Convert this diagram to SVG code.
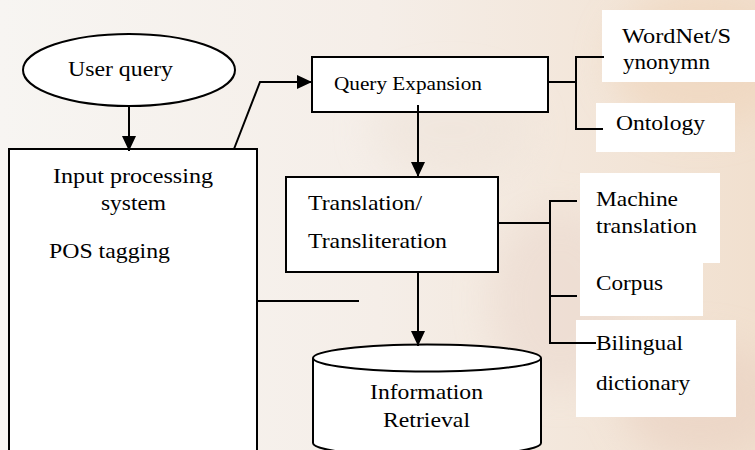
<svg xmlns="http://www.w3.org/2000/svg" width="755" height="450" viewBox="0 0 755 450">
  <defs>
    <linearGradient id="bg" x1="0" y1="0" x2="1" y2="0">
      <stop offset="0" stop-color="#f7f5f2"/>
      <stop offset="0.5" stop-color="#f5eee8"/>
      <stop offset="1" stop-color="#f1e0cf"/>
    </linearGradient>
    <filter id="blur" x="-50%" y="-50%" width="200%" height="200%">
      <feGaussianBlur stdDeviation="18"/>
    </filter>
    <marker id="arrow" markerUnits="userSpaceOnUse" markerWidth="16" markerHeight="16" refX="15" refY="7" orient="auto">
      <path d="M0,0 L15,7 L0,14 Z" fill="#000"/>
    </marker>
    <style>
      .shape { fill: #ffffff; stroke: #000000; stroke-width: 2; }
      .line { fill: none; stroke: #000000; stroke-width: 2; }
      .label { fill: #ffffff; stroke: none; }
      .t { font-family: Liberation Serif, DejaVu Serif, serif; font-size: 22px; fill: #000000; }
      .s { font-family: Liberation Serif, DejaVu Serif, serif; font-size: 19px; fill: #000000; }
    </style>
  </defs>

  <rect id="background" x="0" y="0" width="755" height="450" fill="url(#bg)"/>
  <g id="watermark" filter="url(#blur)" opacity="0.55">
    <ellipse cx="700" cy="60" rx="90" ry="70" fill="#efd3b8"/>
    <ellipse cx="700" cy="400" rx="80" ry="60" fill="#e8cfc0"/>
    <ellipse cx="560" cy="300" rx="70" ry="90" fill="#ead8ce"/>
    <ellipse cx="450" cy="130" rx="80" ry="50" fill="#eee3d9"/>
  </g>

  <g id="user-query">
    <ellipse class="shape" cx="129" cy="70" rx="106" ry="36"/>
    <text class="t" x="68" y="76" textLength="105" lengthAdjust="spacingAndGlyphs">User query</text>
  </g>

  <g id="input-processing">
    <rect class="shape" x="9" y="149" width="248" height="320"/>
    <text class="t" x="53" y="183" textLength="160" lengthAdjust="spacingAndGlyphs">Input processing</text>
    <text class="t" x="101" y="210" textLength="65" lengthAdjust="spacingAndGlyphs">system</text>
    <text class="t" x="49" y="258" textLength="121" lengthAdjust="spacingAndGlyphs">POS tagging</text>
  </g>

  <g id="query-expansion">
    <rect class="shape" x="312" y="57" width="236" height="55"/>
    <text class="s" x="334" y="90" textLength="148" lengthAdjust="spacingAndGlyphs">Query Expansion</text>
  </g>

  <g id="translation">
    <rect class="shape" x="286" y="177" width="212" height="95"/>
    <text class="t" x="308" y="210" textLength="114" lengthAdjust="spacingAndGlyphs">Translation/</text>
    <text class="t" x="308" y="248" textLength="139" lengthAdjust="spacingAndGlyphs">Transliteration</text>
  </g>

  <g id="information-retrieval">
    <path class="shape" d="M313,358 A114,13.5 0 0 1 541,358 L541,443 A114,13.5 0 0 1 313,443 Z"/>
    <path class="line" d="M313,358 A114,13.5 0 0 0 541,358"/>
    <text class="t" x="370" y="399" textLength="113" lengthAdjust="spacingAndGlyphs">Information</text>
    <text class="t" x="383" y="427" textLength="87" lengthAdjust="spacingAndGlyphs">Retrieval</text>
  </g>

  <g id="wordnet">
    <rect class="label" x="602" y="10" width="153" height="72"/>
    <text class="t" x="622" y="43" textLength="109" lengthAdjust="spacingAndGlyphs">WordNet/S</text>
    <text class="t" x="623" y="69" textLength="87" lengthAdjust="spacingAndGlyphs">ynonymn</text>
  </g>

  <g id="ontology">
    <rect class="label" x="596" y="103" width="139" height="49"/>
    <text class="t" x="616" y="130" textLength="89" lengthAdjust="spacingAndGlyphs">Ontology</text>
  </g>

  <g id="machine-translation">
    <rect class="label" x="580" y="173" width="140" height="90"/>
    <text class="t" x="596" y="206" textLength="82" lengthAdjust="spacingAndGlyphs">Machine</text>
    <text class="t" x="596" y="233" textLength="101" lengthAdjust="spacingAndGlyphs">translation</text>
  </g>

  <g id="corpus">
    <rect class="label" x="580" y="262" width="123" height="54"/>
    <text class="t" x="596" y="290" textLength="67" lengthAdjust="spacingAndGlyphs">Corpus</text>
  </g>

  <g id="bilingual-dictionary">
    <rect class="label" x="576" y="320" width="160" height="97"/>
    <text class="t" x="596" y="350" textLength="87" lengthAdjust="spacingAndGlyphs">Bilingual</text>
    <text class="t" x="596" y="390" textLength="94" lengthAdjust="spacingAndGlyphs">dictionary</text>
  </g>

  <g id="connectors">
    <line class="line" x1="129" y1="106" x2="129" y2="151" marker-end="url(#arrow)"/>
    <polyline class="line" points="234,149 260,82 312,82" marker-end="url(#arrow)"/>
    <line class="line" x1="418" y1="105" x2="418" y2="177" marker-end="url(#arrow)"/>
    <line class="line" x1="418" y1="272" x2="418" y2="346" marker-end="url(#arrow)"/>
    <line class="line" x1="257" y1="301" x2="359" y2="301"/>
    <polyline class="line" points="548,82 576,82"/>
    <polyline class="line" points="604,57 576,57 576,129 603,129"/>
    <polyline class="line" points="498,223 550,223"/>
    <polyline class="line" points="577,201 550,201 550,343 596,343"/>
    <line class="line" x1="550" y1="296" x2="577" y2="296"/>
  </g>
</svg>
